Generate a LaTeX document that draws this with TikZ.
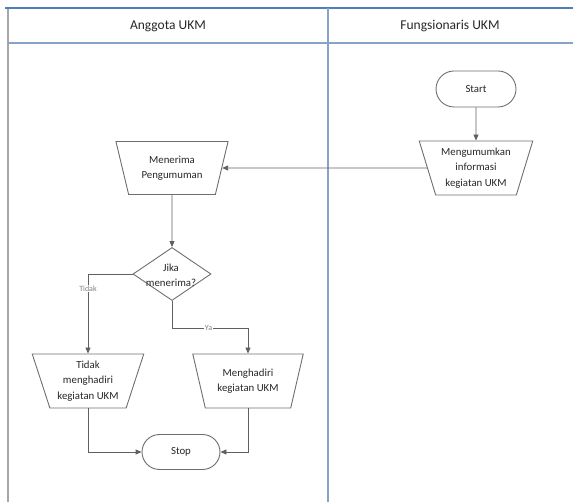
\documentclass[tikz,border=0pt]{standalone}
\usepackage{fontspec}
\setmainfont{Carlito}
\usetikzlibrary{shapes.geometric,shapes.misc,arrows.meta}

\definecolor{topblue}{HTML}{4F7FBA}
\definecolor{laneblue}{HTML}{86A4C8}
\definecolor{lanegrey}{HTML}{A6A6A6}
\definecolor{shapeline}{HTML}{6E6E6E}
\definecolor{connline}{HTML}{606060}
\definecolor{inktext}{HTML}{262626}
\definecolor{labelgrey}{HTML}{808080}

\tikzset{
  header/.style={font=\fontsize{13.5}{16}\selectfont, text=inktext},
  terminal/.style={rounded rectangle, draw=shapeline, line width=0.9pt,
    minimum width=80pt, minimum height=36pt, inner sep=0pt,
    font=\fontsize{10.8}{15}\selectfont, text=inktext},
  iobox/.style={trapezium, shape border rotate=180, trapezium angle=71,
    trapezium stretches=true, draw=shapeline, line width=0.9pt,
    minimum width=113pt, minimum height=53pt, inner sep=1pt, align=center,
    font=\fontsize{10.8}{15.5}\selectfont, text=inktext},
  decision/.style={diamond, draw=shapeline, line width=0.9pt,
    minimum width=78pt, minimum height=53pt, aspect=1.47, inner sep=0pt},
  conn/.style={draw=connline, line width=0.9pt,
    -{Triangle[length=6pt,width=5pt]}},
  lbl/.style={fill=white, inner sep=1pt, text=labelgrey,
    font=\fontsize{8}{9}\selectfont},
}

\begin{document}
\begin{tikzpicture}[x=1pt,y=-1pt]
\useasboundingbox (0,0) rectangle (573,502);

% swimlane frame
\draw[lanegrey, line width=2pt] (8,8) -- (8,502);
\draw[topblue, line width=1.6pt] (5,8) -- (573,8);
\draw[laneblue, line width=1.6pt] (8,43) -- (573,43);
\draw[laneblue, line width=1.6pt] (328,8) -- (328,502);
\node[header] (laneA) at (168,26) {Anggota UKM};
\node[header] (laneF) at (450,26) {Fungsionaris UKM};

% flow nodes
\node[terminal] (start) at (476,89) {Start};
\node[iobox, minimum width=114pt, minimum height=54pt] (umum) at (476,168)
  {Mengumumkan\\informasi\\kegiatan UKM};
\node[iobox] (terima) at (172,168) {Menerima\\Pengumuman};
\node[decision] (jika) at (172,274) {};
\node[font=\fontsize{10.8}{15}\selectfont, text=inktext, align=center,
  inner sep=0pt] (jikatext) at (171,275) {Jika\\menerima?};
\node[iobox, minimum width=112pt, minimum height=54pt] (tidak) at (88,381)
  {Tidak\\menghadiri\\kegiatan UKM};
\node[iobox, minimum width=111pt, minimum height=54pt] (hadir) at (248,381)
  {Menghadiri\\kegiatan UKM};
\node[terminal, minimum width=78pt, minimum height=35pt] (stop) at (181,452) {Stop};

\coordinate (yabend) at (172,328);

% connectors
\draw[conn] (start) -- (umum);
\draw[conn] (umum) -- (terima);
\draw[conn] (terima) -- (jika);
\draw[conn] (jika.west) -| node[lbl, pos=0.59] {Tidak} (tidak.north);
\draw[conn] (jika.south) -- (yabend) -| node[lbl, pos=0.24] {Ya} (hadir.north);
\draw[conn] (tidak.south) |- (stop.west);
\draw[conn] (hadir.south) |- (stop.east);
\end{tikzpicture}
\end{document}
